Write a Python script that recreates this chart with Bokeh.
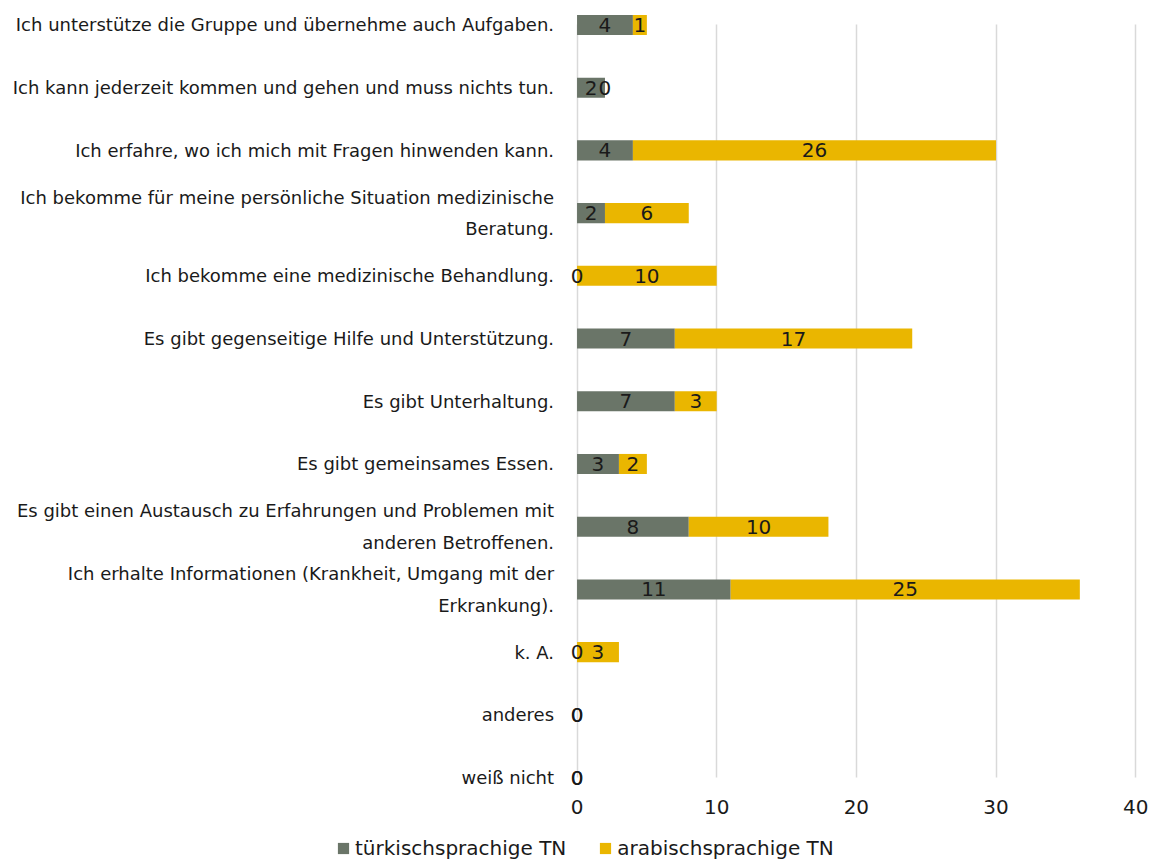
from bokeh.plotting import figure
from bokeh.layouts import column
from bokeh.models import (ColumnDataSource, FixedTicker, Range1d, Legend, LegendItem)
from bokeh.embed import file_html
from bokeh.resources import INLINE
from bokeh.core.properties import value

# ---- data (top to bottom) ----
categories = [
    "Ich unterstütze die Gruppe und übernehme auch Aufgaben.",
    "Ich kann jederzeit kommen und gehen und muss nichts tun.",
    "Ich erfahre, wo ich mich mit Fragen hinwenden kann.",
    "Ich bekomme für meine persönliche Situation medizinische\nBeratung.",
    "Ich bekomme eine medizinische Behandlung.",
    "Es gibt gegenseitige Hilfe und Unterstützung.",
    "Es gibt Unterhaltung.",
    "Es gibt gemeinsames Essen.",
    "Es gibt einen Austausch zu Erfahrungen und Problemen mit\nanderen Betroffenen.",
    "Ich erhalte Informationen (Krankheit, Umgang mit der\nErkrankung).",
    "k. A.",
    "anderes",
    "weiß nicht",
]
tuerkisch = [4, 2, 4, 2, 0, 7, 7, 3, 8, 11, 0, 0, 0]
arabisch = [1, 0, 26, 6, 10, 17, 3, 2, 10, 25, 3, 0, 0]
series_names = ["türkischsprachige TN", "arabischsprachige TN"]
x_ticks = [0, 10, 20, 30, 40]

GRAY = "#6A7568"
GOLD = "#EAB600"
FONT = "DejaVu Sans"
TXT = "#1a1a1a"

n = len(categories)
ypos = [n - 1 - i for i in range(n)]
t_end = list(tuerkisch)
a_end = [t + a for t, a in zip(tuerkisch, arabisch)]

src = ColumnDataSource(dict(
    y=ypos, cat=categories, zero=[0] * n,
    t_left=[0] * n, t_right=t_end, a_left=t_end, a_right=a_end,
    t_mid=[t / 2 for t in tuerkisch],
    a_mid=[t + a / 2 for t, a in zip(tuerkisch, arabisch)],
    t_lab=[str(v) for v in tuerkisch], a_lab=[str(v) for v in arabisch],
))

p = figure(
    frame_width=1150, frame_height=795,
    x_range=Range1d(-41.28, 41.06), y_range=Range1d(-0.286, 12.39),
    output_backend="svg", toolbar_location=None, y_axis_location=None,
    min_border_left=0, min_border_right=0, min_border_top=0, min_border_bottom=28,
)
p.outline_line_color = None
p.background_fill_color = "white"
p.border_fill_color = "white"

r1 = p.hbar(y="y", left="t_left", right="t_right", height=0.32, source=src,
            fill_color=GRAY, line_color=None)
r2 = p.hbar(y="y", left="a_left", right="a_right", height=0.32, source=src,
            fill_color=GOLD, line_color=None)

p.text(x="t_mid", y="y", text="t_lab", source=src, text_align="center",
       text_baseline="middle", text_font=value(FONT), text_font_size="20px", text_color=TXT)
p.text(x="a_mid", y="y", text="a_lab", source=src, text_align="center",
       text_baseline="middle", text_font=value(FONT), text_font_size="20px", text_color=TXT)

# category labels, anchored at the value axis origin
p.text(x="zero", y="y", text="cat", source=src, x_offset=-23,
       text_align="right", text_baseline="middle", text_line_height=1.5,
       text_font=value(FONT), text_font_size="18px", text_color=TXT)

# grid
p.ygrid.visible = False
g = p.xgrid[0]
g.ticker = FixedTicker(ticks=x_ticks)
g.grid_line_color = "#D9D9D9"
g.grid_line_width = 1.5
if "cross_bounds" in g.properties():
    g.cross_bounds = (min(ypos), max(ypos))
g.level = "underlay"

# x axis
xa = p.xaxis[0]
xa.ticker = FixedTicker(ticks=x_ticks)
xa.axis_line_color = None
xa.major_tick_line_color = None
xa.minor_tick_line_color = None
xa.major_tick_in = 0
xa.major_tick_out = 0
xa.major_label_text_font = FONT
xa.major_label_text_font_size = "20px"
xa.major_label_text_color = TXT
xa.major_label_standoff = 4

# ---- legend strip (separate small figure below) ----
lg = figure(width=1150, height=38, x_range=Range1d(0, 1), y_range=Range1d(0, 1),
            output_backend="svg", toolbar_location=None,
            x_axis_location=None, y_axis_location=None,
            min_border=0, min_border_left=0, min_border_right=0,
            min_border_top=0, min_border_bottom=0)
lg.xgrid.grid_line_color = None
lg.ygrid.grid_line_color = None
lg.outline_line_color = None
lg.background_fill_color = "white"
lg.border_fill_color = "white"
# swatch renderers kept completely outside the visible range (legend keys only)
key_src = ColumnDataSource(dict(y=[50], left=[50], right=[51]))
l1 = lg.hbar(y="y", left="left", right="right", height=0.5, source=key_src,
             fill_color=GRAY, line_color=None)
l2 = lg.hbar(y="y", left="left", right="right", height=0.5, source=key_src,
             fill_color=GOLD, line_color=None)
legend = Legend(items=[LegendItem(label=series_names[0], renderers=[l1]),
                       LegendItem(label=series_names[1], renderers=[l2])],
                orientation="horizontal", location=(336, 1),
                glyph_width=14, glyph_height=14, label_text_font=FONT,
                label_text_font_size="20px", label_text_color=TXT,
                label_standoff=5, spacing=32, padding=0, margin=0,
                label_height=20, label_text_line_height=1.0,
                border_line_color=None, background_fill_alpha=0)
lg.add_layout(legend)

layout = column(p, lg, spacing=0)
open("out.html", "w").write(file_html(layout, INLINE))
